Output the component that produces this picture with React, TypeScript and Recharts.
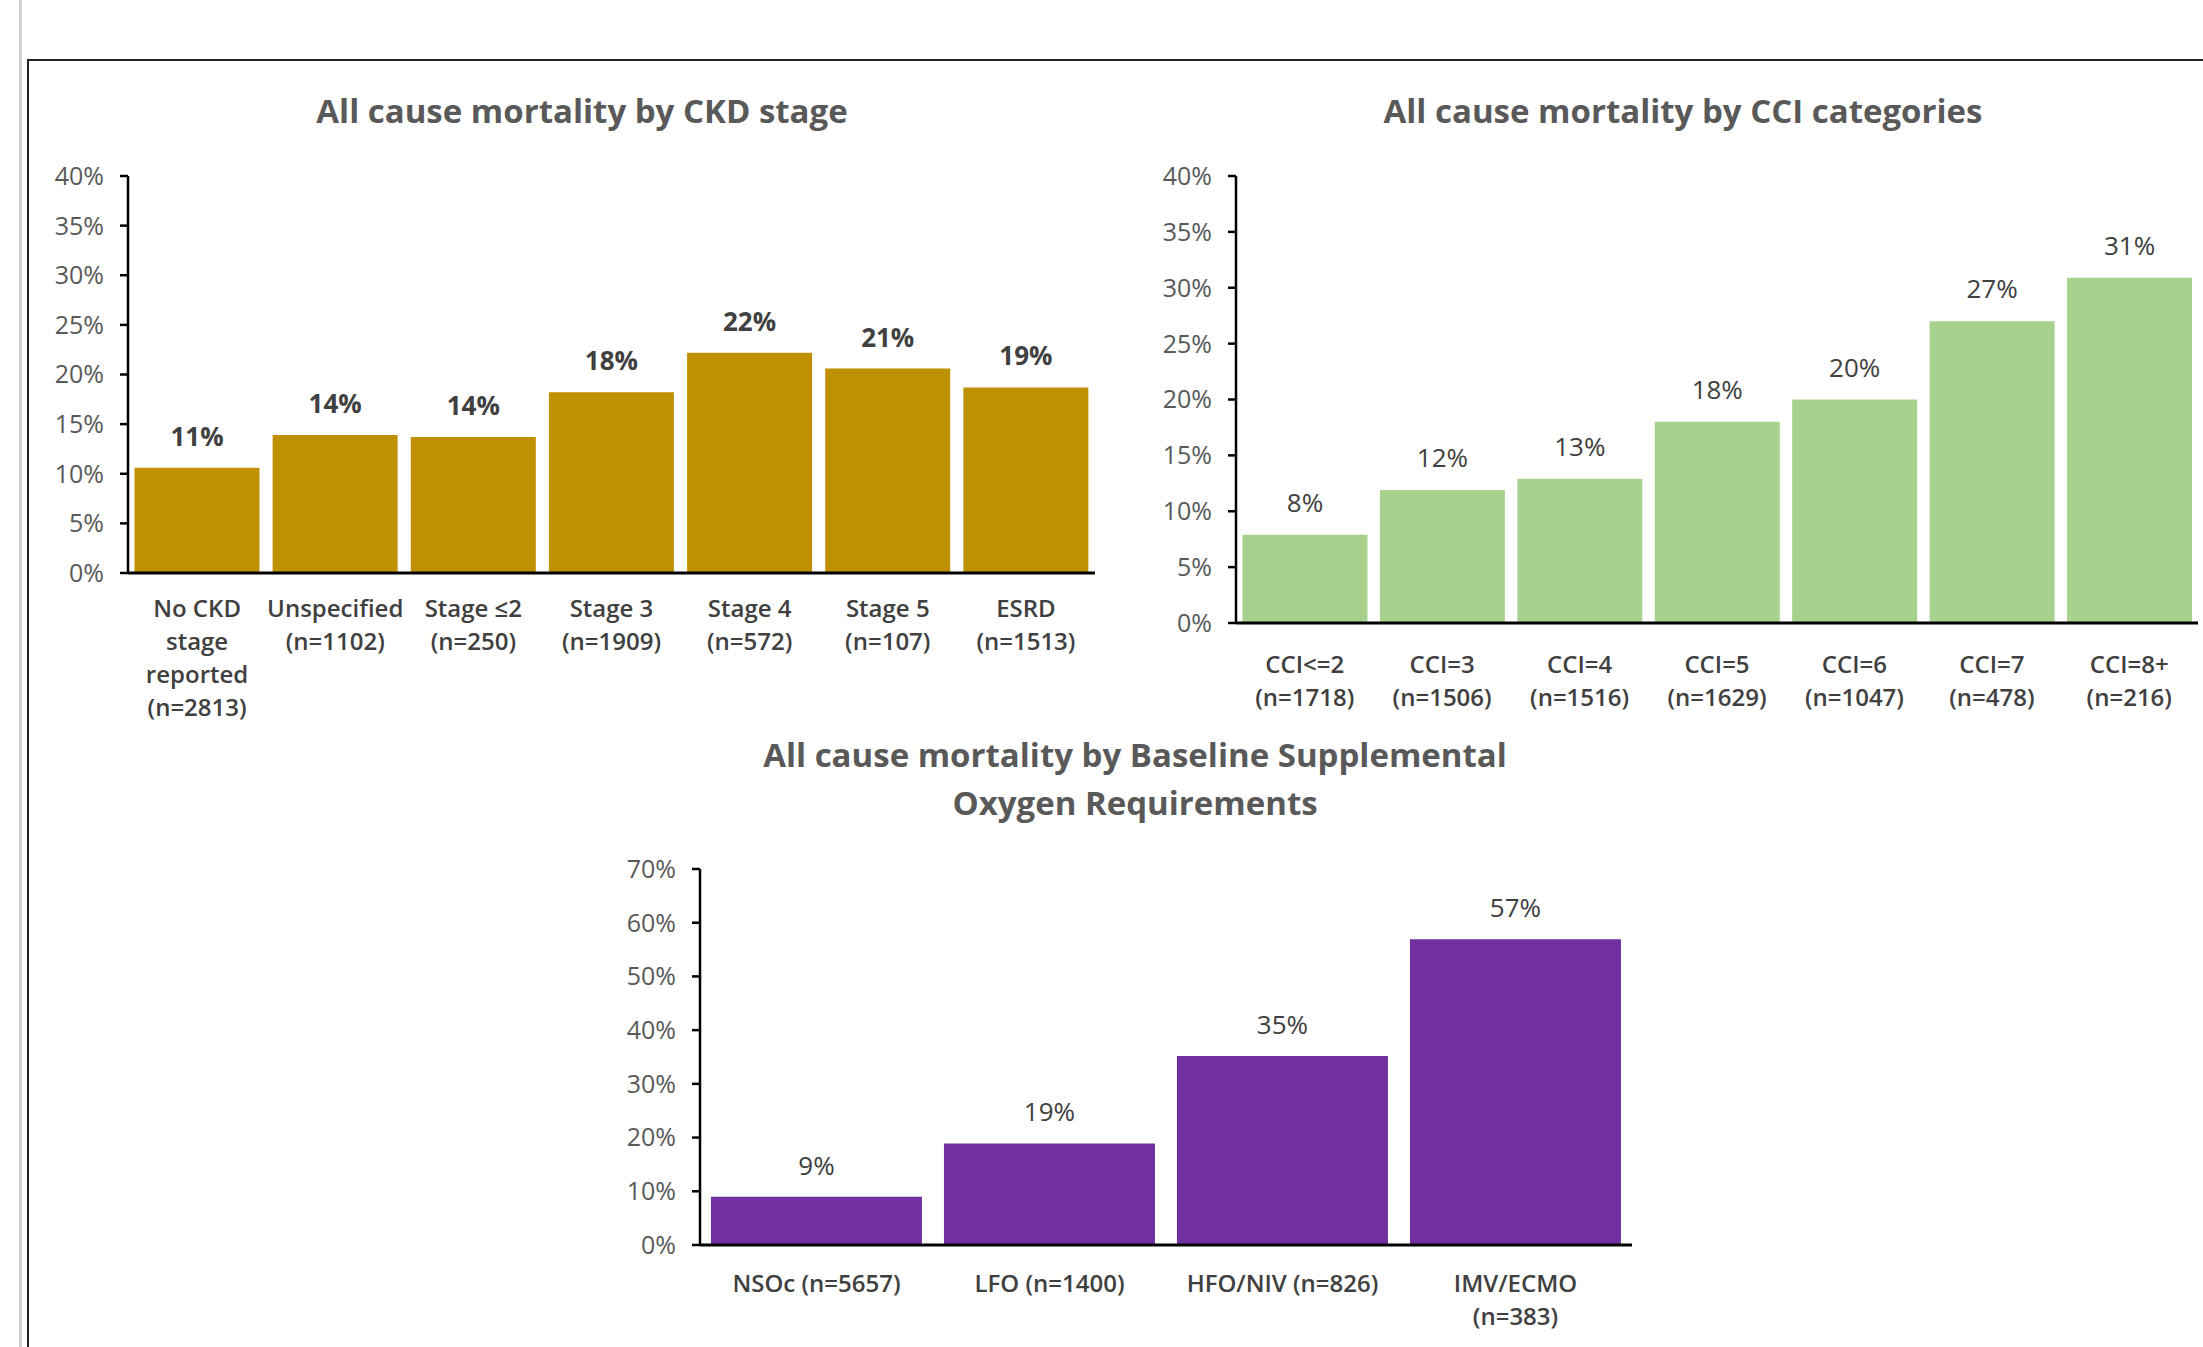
import React from 'react';
import { BarChart, Bar, XAxis, YAxis, LabelList } from 'recharts';

const FONT = "'Open Sans', 'Noto Sans', sans-serif";

const ckdCategories = ['No CKD\nstage\nreported\n(n=2813)', 'Unspecified\n(n=1102)', 'Stage \u22642\n(n=250)', 'Stage 3\n(n=1909)', 'Stage 4\n(n=572)', 'Stage 5\n(n=107)', 'ESRD\n(n=1513)'];
const ckdValues = [10.6, 13.9, 13.7, 18.2, 22.2, 20.6, 18.7];
const ckdTicks = [0, 5, 10, 15, 20, 25, 30, 35, 40];

const cciCategories = ['CCI<=2\n(n=1718)', 'CCI=3\n(n=1506)', 'CCI=4\n(n=1516)', 'CCI=5\n(n=1629)', 'CCI=6\n(n=1047)', 'CCI=7\n(n=478)', 'CCI=8+\n(n=216)'];
const cciValues = [7.9, 11.9, 12.9, 18.0, 20.0, 27.0, 30.9];
const cciTicks = [0, 5, 10, 15, 20, 25, 30, 35, 40];

const oxyCategories = ['NSOc (n=5657)', 'LFO (n=1400)', 'HFO/NIV (n=826)', 'IMV/ECMO\n(n=383)'];
const oxyValues = [9.0, 18.9, 35.2, 56.9];
const oxyTicks = [0, 10, 20, 30, 40, 50, 60, 70];

const ckdData = ckdCategories.map((c, i) => ({ name: c, value: ckdValues[i] }));
const cciData = cciCategories.map((c, i) => ({ name: c, value: cciValues[i] }));
const oxyData = oxyCategories.map((c, i) => ({ name: c, value: oxyValues[i] }));

const pct = (v: number) => `${Math.round(v)}%`;

const makeTick = (firstOffset: number, lineH: number, fontSize: number) => (props: any) => {
  const { x, y, payload } = props;
  const lines = String(payload.value).split('\n');
  return (
    <text x={x} y={y} textAnchor="middle" fill="#404040" fontSize={fontSize} fontWeight={600} fontFamily={FONT}>
      {lines.map((l, i) => (
        <tspan key={i} x={x} dy={i === 0 ? firstOffset + fontSize * 0.36 : lineH}>{l}</tspan>
      ))}
    </text>
  );
};

const yTickStyle = { fill: '#595959', fontSize: 25, fontFamily: FONT };

type PanelProps = {
  data: { name: string; value: number }[];
  left: number; top: number; width: number; height: number;
  marginTop: number; marginRight: number; yWidth: number; xHeight: number;
  ticks: number[]; max: number; color: string;
  labelBold: boolean; labelOffset: number; catFirst: number;
};

const Panel = (p: PanelProps) => (
  <div style={{ position: 'absolute', left: p.left, top: p.top }}>
    <BarChart width={p.width} height={p.height} data={p.data} barCategoryGap="4.7%"
      margin={{ top: p.marginTop, right: p.marginRight, left: 0, bottom: 0 }}>
      <XAxis dataKey="name" interval={0} height={p.xHeight} tickLine={false} tickSize={0} tickMargin={0}
        axisLine={{ stroke: '#000', strokeWidth: 3 }} tick={makeTick(p.catFirst, 33, 24)} />
      <YAxis width={p.yWidth} domain={[0, p.max]} ticks={p.ticks} interval={0} tickFormatter={(v: number) => `${v}%`}
        axisLine={{ stroke: '#000', strokeWidth: 2.5 }} tickLine={{ stroke: '#000', strokeWidth: 2.5 }}
        tickSize={8} tickMargin={16} tick={yTickStyle} allowDataOverflow />
      <Bar dataKey="value" fill={p.color} isAnimationActive={false}>
        <LabelList dataKey="value" position="top" offset={p.labelOffset} formatter={(v: any) => pct(Number(v))}
          fill="#404040" fontSize={26} fontWeight={p.labelBold ? 700 : 400} fontFamily={FONT} />
      </Bar>
    </BarChart>
  </div>
);

const titleStyle: React.CSSProperties = {
  position: 'absolute', color: '#595959', fontFamily: FONT, fontWeight: 700, fontSize: 33,
  textAlign: 'center', whiteSpace: 'nowrap', transform: 'translateX(-50%)', lineHeight: '48px',
};

export default function App() {
  return (
    <div style={{ position: 'absolute', left: 0, top: 0, width: 2203, height: 1347, overflow: 'hidden', background: '#fff' }}>
      <div style={{ position: 'absolute', left: 19, top: 0, width: 3, height: 1347, background: '#cfd2d2' }} />
      <div style={{ position: 'absolute', left: 27, top: 59, width: 2176, height: 1288, borderLeft: '2px solid #222', borderTop: '2px solid #222', boxSizing: 'border-box' }} />

      <div style={{ ...titleStyle, left: 582, top: 87 }}>All cause mortality by CKD stage</div>
      <div style={{ ...titleStyle, left: 1683, top: 87 }}>All cause mortality by CCI categories</div>
      <div style={{ ...titleStyle, left: 1135, top: 731 }}>All cause mortality by Baseline Supplemental<br />Oxygen Requirements</div>

      <Panel data={ckdData} left={0} top={150} width={1105} height={573} marginTop={26} marginRight={10}
        yWidth={128} xHeight={150} ticks={ckdTicks} max={40} color="#BF9000" labelBold labelOffset={22} catFirst={35} />
      <Panel data={cciData} left={1100} top={150} width={1103} height={593} marginTop={26} marginRight={5}
        yWidth={136} xHeight={120} ticks={cciTicks} max={40} color="#A9D18E" labelBold={false} labelOffset={23} catFirst={41} />
      <Panel data={oxyData} left={570} top={840} width={1072} height={505} marginTop={29} marginRight={10}
        yWidth={130} xHeight={100} ticks={oxyTicks} max={70} color="#7030A0" labelBold={false} labelOffset={22} catFirst={38} />
    </div>
  );
}
